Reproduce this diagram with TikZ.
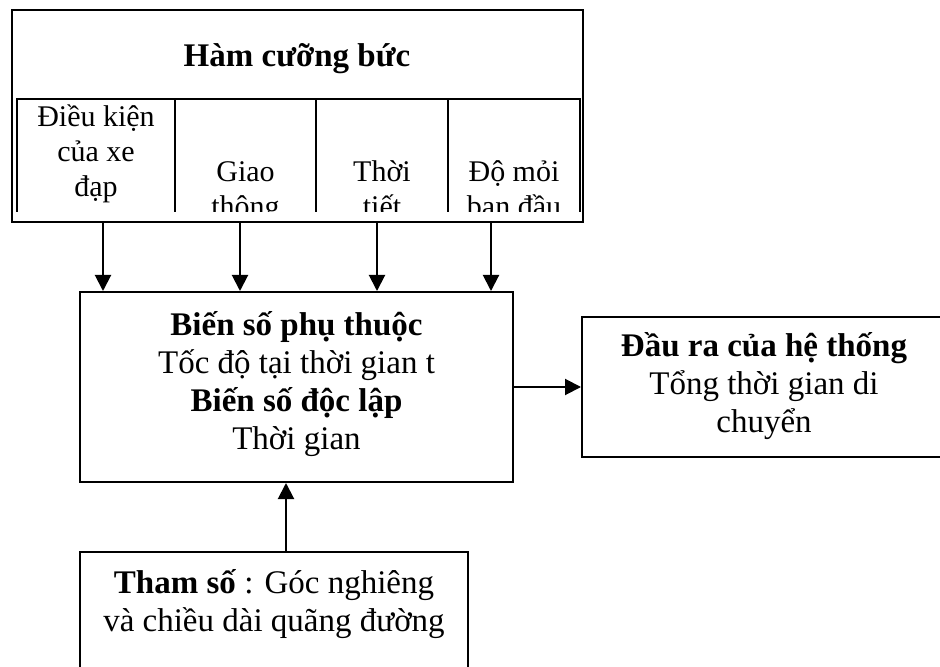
\documentclass[tikz,border=0pt]{standalone}
\usepackage{fontspec}
\setmainfont{Liberation Serif}
\usetikzlibrary{arrows.meta, positioning}

\tikzset{
  box/.style={draw, line width=1pt, inner sep=0pt},
  txt/.style={align=center, inner sep=0pt, font=\fontsize{16.5}{19}\selectfont},
  cell/.style={align=center, inner sep=0pt, font=\fontsize{15}{17.5}\selectfont},
}

\begin{document}
\begin{tikzpicture}[x=0.5pt, y=-0.5pt, line width=1pt, >={Triangle[width=8pt,length=8pt]}]
  \useasboundingbox (0,0) rectangle (940,667);

  % forcing functions: outer box, title and the four cells
  \node[box, minimum width=285.75pt, minimum height=106pt] (forcing) at (297.25,116) {};
  \node[txt, anchor=base] (title) at (297,67) {\bfseries Hàm cưỡng bức};

  \begin{scope}[line width=0.8pt]
    \clip (10,90) rectangle (585,212);
    \draw (17,230) |- (580,99) -- (580,230);
    \foreach \x in {175,316,448}
      \draw (\x,99) -- (\x,230);
    % anchor=base sits on the last line
    \node[cell, anchor=base] (bike)    at (96,197)  {Điều kiện\\của xe\\đạp};
    \node[cell, anchor=base] (traffic) at (245.5,217) {Giao\\thông};
    \node[cell, anchor=base] (weather) at (382,217) {Thời\\tiết};
    \node[cell, anchor=base] (fatigue) at (514,217) {Độ mỏi\\ban đầu};
  \end{scope}

  % state box
  \node[box, minimum width=216.5pt, minimum height=95pt] (state) at (296.5,387) {};
  \node[txt, anchor=base] (state-text) at (296.5,449)
    {\textbf{Biến số phụ thuộc}\\Tốc độ tại thời gian t\\\textbf{Biến số độc lập}\\Thời gian};

  % output box
  \node[box, minimum width=182pt, minimum height=70pt] (output) at (764,387) {};
  \node[txt, anchor=base] (output-text) at (764,432)
    {\textbf{Đầu ra của hệ thống}\\Tổng thời gian di\\chuyển};

  % parameter box
  \node[box, minimum width=194pt, minimum height=70pt] (param) at (274,622) {};
  \node[txt, anchor=base] (param-text) at (274,631)
    {\textbf{Tham số} : Góc nghiêng\\và chiều dài quãng đường};

  % arrows
  \foreach \x [count=\i] in {103,240,377,491,286}
    \coordinate (a\i) at (\x,0);
  \foreach \i in {1,...,4}
    \draw[->] (forcing.south -| a\i) -- (state.north -| a\i);
  \draw[->] (param.north -| a5) -- (state.south -| a5);
  \draw[->] (state) -- (output);
\end{tikzpicture}
\end{document}
